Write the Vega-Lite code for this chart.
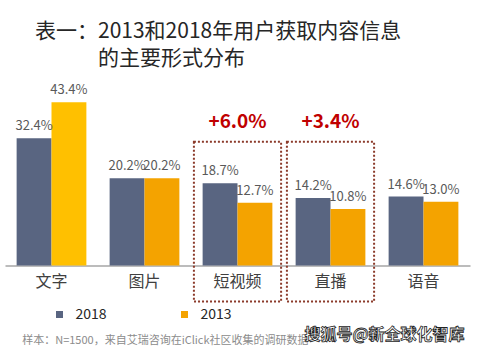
{
  "$schema": "https://vega.github.io/schema/vega-lite/v6.json",
  "width": 465,
  "height": 185,
  "autosize": {"type": "none"},
  "padding": {"left": 5, "top": 80.5, "right": 7, "bottom": 87.5},
  "background": "white",
  "config": {"view": {"stroke": null}, "font": "Noto Sans CJK SC"},
  "title": {
    "text": ["表一：2013和2018年用户获取内容信息", "\u200b\u3000\u3000\u3000的主要形式分布"],
    "anchor": "start",
    "frame": "group",
    "dx": 30,
    "offset": 12,
    "fontSize": 21,
    "fontWeight": "normal",
    "color": "#262626",
    "lineHeight": 27,
    "font": "Noto Sans CJK SC"
  },
  "datasets": {
    "bars": [
      {"cat": "文字", "year": "2018", "v": 32.4, "label": "32.4%"},
      {"cat": "文字", "year": "2013", "v": 43.4, "label": "43.4%"},
      {"cat": "图片", "year": "2018", "v": 20.2, "label": "20.2%"},
      {"cat": "图片", "year": "2013", "v": 20.2, "label": "20.2%"},
      {"cat": "短视频", "year": "2018", "v": 18.7, "label": "18.7%"},
      {"cat": "短视频", "year": "2013", "v": 12.7, "label": "12.7%"},
      {"cat": "直播", "year": "2018", "v": 14.2, "label": "14.2%"},
      {"cat": "直播", "year": "2013", "v": 10.8, "label": "10.8%"},
      {"cat": "语音", "year": "2018", "v": 14.6, "label": "14.6%"},
      {"cat": "语音", "year": "2013", "v": 13.0, "label": "13.0%"}
    ],
    "boxes": [
      {"cat": "短视频", "delta": "+6.0%"},
      {"cat": "直播", "delta": "+3.4%"}
    ],
    "wm": [
      {"cat": "语音", "text": "搜狐号@新全球化智库"}
    ]
  },
  "layer": [
    {
      "data": {"name": "bars"},
      "mark": {"type": "bar"},
      "encoding": {
        "x": {
          "field": "cat", "type": "nominal",
          "sort": ["文字", "图片", "短视频", "直播", "语音"],
          "scale": {"paddingInner": 0.25, "paddingOuter": 0.125},
          "axis": {
            "title": "样本：N=1500，来自艾瑞咨询在iClick社区收集的调研数据",
            "titleX": 16.7,
            "titleY": 75,
            "titleAlign": "left",
            "titleAnchor": "start",
            "titleBaseline": "middle",
            "titleFontSize": 11,
            "titleFontWeight": "normal",
            "titleColor": "#8c8c8c",
            "labelFontSize": 16,
            "labelColor": "#404040",
            "labelPadding": 8,
            "labelAngle": 0,
            "ticks": false,
            "domainColor": "#a6a6a6",
            "domainWidth": 1.5
          }
        },
        "xOffset": {"field": "year", "type": "nominal", "sort": ["2018", "2013"]},
        "y": {
          "field": "v", "type": "quantitative",
          "scale": {"domain": [-6.4, 50], "zero": false, "nice": false},
          "axis": null
        },
        "y2": {"datum": -6.4},
        "color": {
          "condition": {"test": "datum.cat === '文字' && datum.year === '2013'", "value": "#ffc000"},
          "field": "year", "type": "nominal",
          "scale": {"domain": ["2018", "2013"], "range": ["#596581", "#f4a300"]},
          "legend": {
            "orient": "none",
            "legendX": 47.5,
            "legendY": 227,
            "direction": "horizontal",
            "title": null,
            "symbolType": "square",
            "symbolSize": 49,
            "symbolStrokeWidth": 0,
            "labelFontSize": 14,
            "labelColor": "#262626",
            "columnPadding": 70,
            "labelOffset": 9,
            "padding": 0
          }
        }
      }
    },
    {
      "data": {"name": "bars"},
      "mark": {"type": "text", "baseline": "bottom", "dy": -5, "fontSize": 13, "color": "#595959"},
      "encoding": {
        "x": {"field": "cat", "type": "nominal", "sort": ["文字", "图片", "短视频", "直播", "语音"]},
        "xOffset": {"field": "year", "type": "nominal", "sort": ["2018", "2013"]},
        "y": {"field": "v", "type": "quantitative"},
        "text": {"field": "label"}
      }
    },
    {
      "data": {"name": "boxes"},
      "mark": {"type": "bar", "fill": null, "fillOpacity": 0, "stroke": "#8b3a2a", "strokeDash": [2, 2], "strokeWidth": 2, "width": {"band": 1.25}},
      "encoding": {
        "x": {"field": "cat", "type": "nominal", "sort": ["文字", "图片", "短视频", "直播", "语音"]},
        "y": {"datum": 31.3},
        "y2": {"datum": -17.4}
      }
    },
    {
      "data": {"name": "boxes"},
      "mark": {"type": "text", "fontSize": 19, "fontWeight": "bold", "color": "#c00000", "baseline": "middle"},
      "encoding": {
        "x": {"field": "cat", "type": "nominal", "sort": ["文字", "图片", "短视频", "直播", "语音"]},
        "y": {"datum": 37.4},
        "text": {"field": "delta"}
      }
    },
    {
      "data": {"name": "wm"},
      "mark": {"type": "text", "fontSize": 16, "fontWeight": "bold", "fill": "white", "stroke": "#222222", "strokeWidth": 0.8, "align": "right", "baseline": "middle", "dx": 41},
      "encoding": {
        "x": {"field": "cat", "type": "nominal", "sort": ["文字", "图片", "短视频", "直播", "语音"]},
        "y": {"datum": -27.6},
        "text": {"field": "text"}
      }
    }
  ]
}
